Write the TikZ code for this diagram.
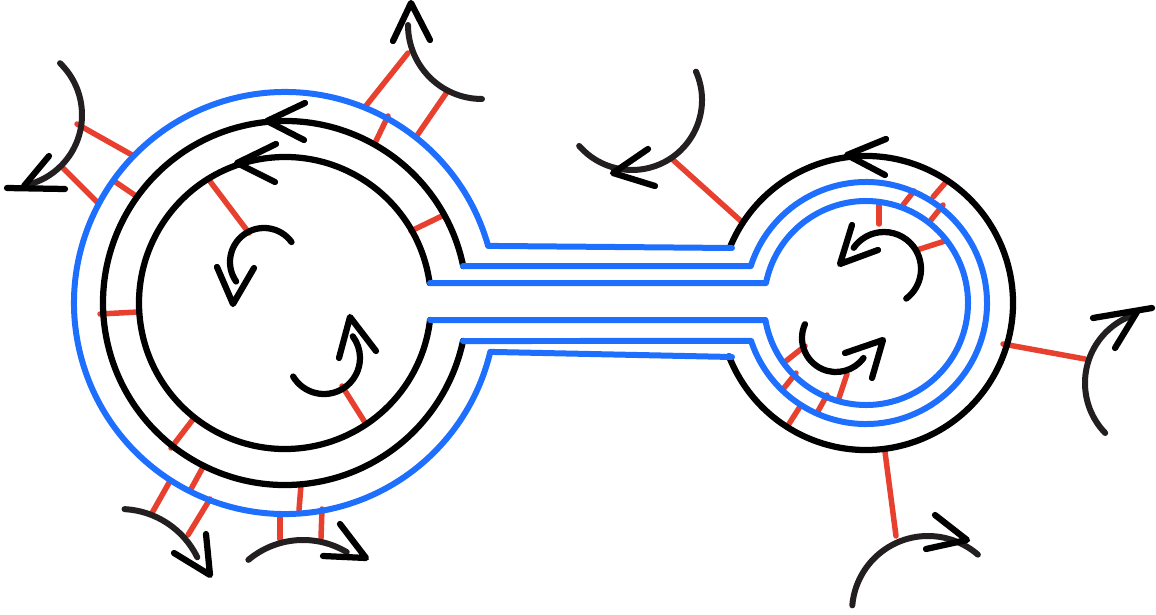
\documentclass[tikz,border=0pt]{standalone}
\usepackage{tikz}
\usetikzlibrary{calc}
\definecolor{tubeblue}{RGB}{31,111,255}
\definecolor{linkred}{RGB}{232,64,46}
\definecolor{arcblack}{RGB}{35,31,32}

\begin{document}
\begin{tikzpicture}[x=0.02cm, y=-0.02cm, line cap=round, line join=round,
    ring/.style={draw=black, line width=0.125cm},
    tube/.style={draw=tubeblue, line width=0.12cm},
    link/.style={draw=linkred, line width=0.11cm},
    turn/.style={draw=arcblack, line width=0.12cm}]
            \useasboundingbox(0,0)rectangle(1156,615);
            % centres of the two cells
            \coordinate(L)at(285,303);
            \coordinate(R)at(866,303);
            % red links, left cell
            \path[link](77,124)to(132,155);
            \path[link](62,167)to(97,202);
            \path[link](114,181)to(136,196);
            \path[link](365,107)to(408,53);
            \path[link](416,137)to(447,92);
            \path[link](375,143)to(388,116);
            \path[link](209,180)to(249,233);
            \path[link](411,231)to(444,215);
            \path[link](100,314)to(138,312);
            \path[link](342,386)to(366,424);
            \path[link](171,448)to(194,418);
            \path[link](191,489)to(203,467);
            \path[link](152,513)to(170,481);
            \path[link](188,535)to(210,499);
            \path[link](280,539)to(280,514);
            \path[link](299,510)to(301,485);
            \path[link](321,538)to(322,509);
            % red links, right cell
            \path[link](672,159)to(742,222);
            \path[link](1003,344)to(1085,359);
            \path[link](885,452)to(896,536);
            \path[link](879,203)to(879,224);
            \path[link](903,205)to(914,191);
            \path[link](933,197)to(946,182);
            \path[link](931,220)to(943,205);
            \path[link](917,250)to(945,241);
            \path[link](786,361)to(805,346);
            \path[link](784,388)to(796,373);
            \path[link](787,427)to(801,405);
            \path[link](817,413)to(827,395);
            \path[link](839,398)to(847,374);
            % black rings
            \path[ring]($(L)+(-7.9:146)$)arc[start angle=-7.9, end angle=-353.3, radius=146];
            \path[ring]($(L)+(-11.7:182)$)arc[start angle=-11.7, end angle=-348, radius=182];
            \path[ring]($(R)+(-157.7:147)$)arc[start angle=-157.7, end angle=158.8, radius=147];
            % blue tubes
            \path[tube](732,248)to($(L)+(-15.7:211)$)arc[start angle=-15.7, end angle=-346.6, radius=211]to(732,357);
            \path[tube](463,266)to($(R)+(-162.2:121)$)arc[start angle=-162.2, end angle=161.7, radius=121]to(463,341);
            \path[tube](430,283)to($(R)+(-168.7:102)$)arc[start angle=-168.7, end angle=170.4, radius=102]to(430,320);
            % heads on the rings
            \path[ring](305,103)to(267,121)to(304,140);
            \path[ring](276,144)to(237,163)to(275,182);
            \path[ring](886,139)to(847,155)to(885,175);
            % turning arrows outside
            \path[turn]($(10,115)+(-46:72)$)arc[start angle=-46, end angle=78, radius=72];
            \path[ring](49,156)to(24,186);
            \path[ring](7,188)to(65,189);
            \path[turn]($(482,25)+(180:74)$)arc[start angle=180, end angle=90, radius=74];
            \path[ring](393,41)to(411,3)to(430,40);
            \path[turn]($(120,595)+(-87:86)$)arc[start angle=-87, end angle=-26, radius=86];
            \path[ring](174,553)to(210,575)to(206,534);
            \path[turn]($(303,625)+(-130:85)$)arc[start angle=-130, end angle=-59, radius=85];
            \path[ring](323,556)to(366,558)to(340,524);
            \path[turn]($(632,100)+(-24:70)$)arc[start angle=-24, end angle=139, radius=70];
            \path[ring](648,149)to(613,173)to(655,186);
            \path[turn]($(1157,383)+(136:72)$)arc[start angle=136, end angle=252, radius=72];
            \path[ring](1115,348)to(1137,312);
            \path[ring](1093,318)to(1152,308);
            \path[turn]($(928,612)+(-175:76)$)arc[start angle=-175, end angle=-49, radius=76];
            \path[ring](935,515)to(967,540)to(926,549);
            % turning arrows inside
            \path[ring]($(264,262)+(-36:34)$)arc[start angle=-36, end angle=-215, radius=34];
            \path[ring](217,267)to(233,304)to(254,268);
            \path[ring]($(324,358)+(149:36)$)arc[start angle=149, end angle=-37, radius=36];
            \path[ring](339,358)to(350,317)to(376,351);
            \path[ring]($(884,269)+(53:37)$)arc[start angle=53, end angle=-145, radius=37];
            \path[ring](852,225)to(840,264)to(878,250);
            \path[ring]($(836,338)+(204:34)$)arc[start angle=204, end angle=36, radius=34];
            \path[ring](845,353)to(883,340)to(872,378);
\end{tikzpicture}
\end{document}
